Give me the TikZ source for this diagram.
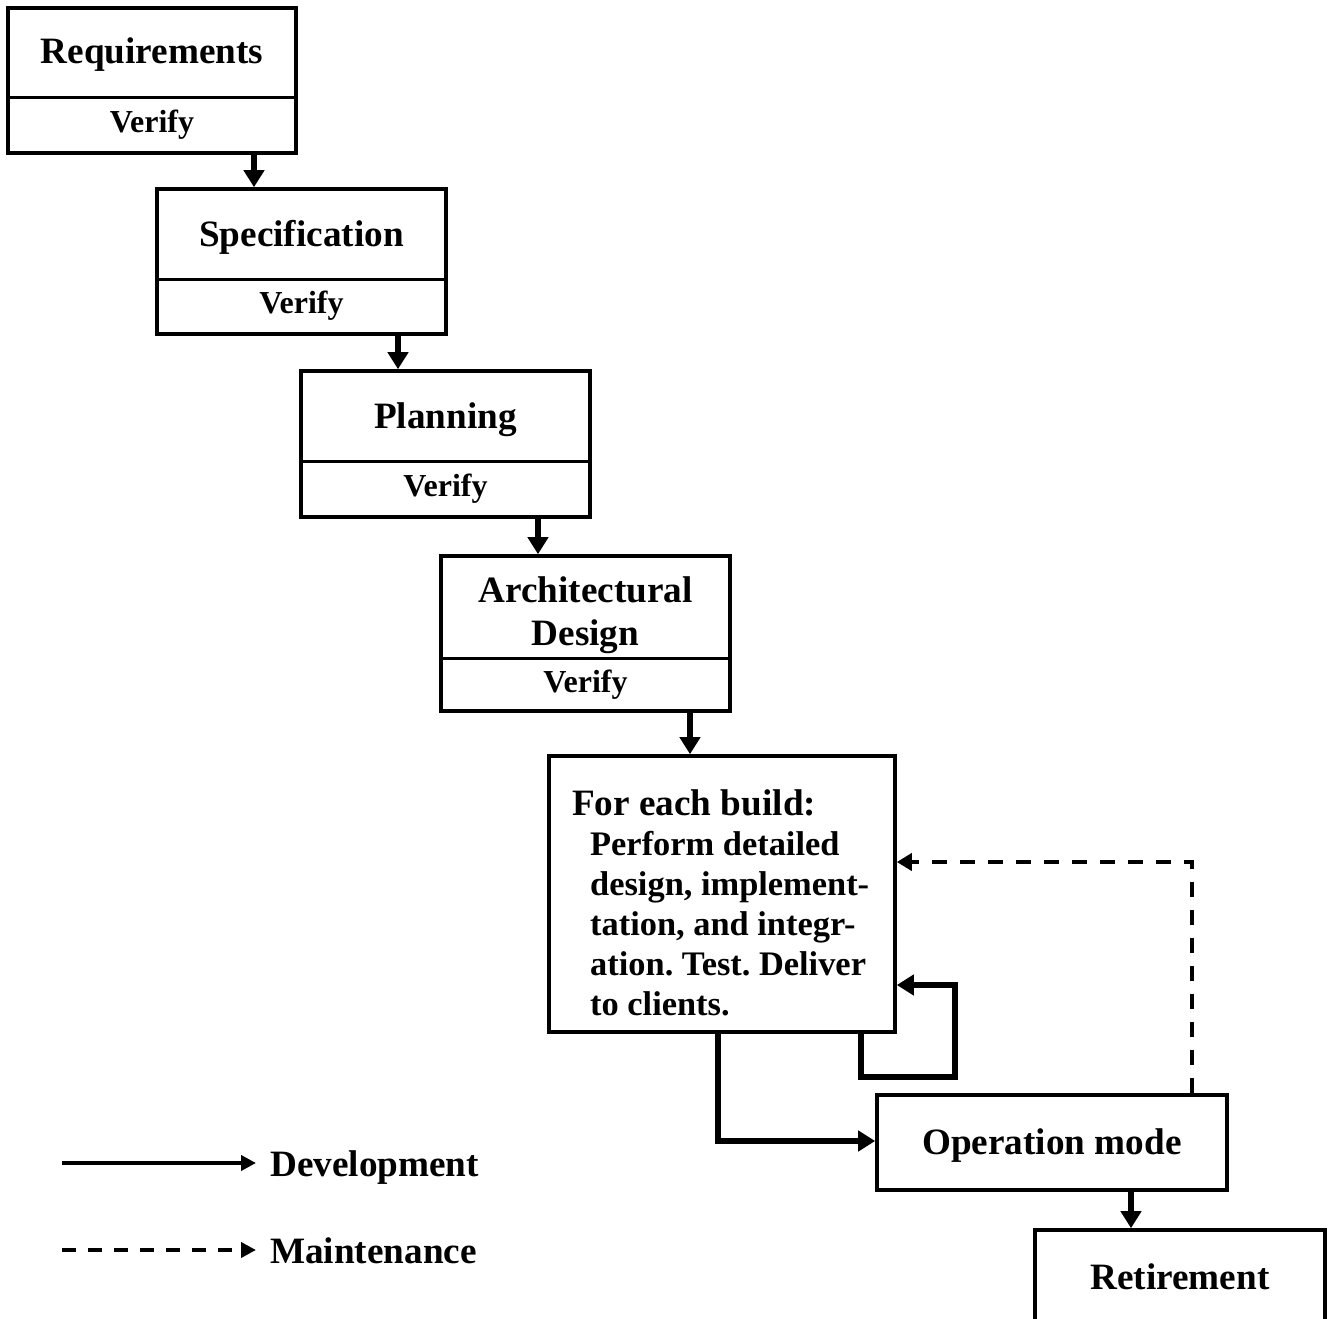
\documentclass[tikz,border=0pt]{standalone}
\usepackage{fontspec}
\setmainfont{Liberation Serif}
\usetikzlibrary{arrows.meta}
\begin{document}
\begin{tikzpicture}[x=1pt,y=-1pt,
  box/.style={draw, line width=3.6pt, inner sep=0pt},
  divider/.style={line width=3pt},
  title/.style={font=\fontsize{37.2}{40}\selectfont\bfseries, inner sep=0pt, anchor=base},
  vlabel/.style={font=\fontsize{32}{34}\selectfont\bfseries, inner sep=0pt, anchor=base},
  dev/.style={line width=5.5pt, -{Triangle[length=17pt,width=20pt]}},
  selfloop/.style={line width=6pt, -{Triangle[length=17pt,width=20pt]}},
  maint/.style={line width=3.8pt, dash pattern=on 15pt off 13pt, -{Triangle[length=15pt,width=17pt]}},
  legdev/.style={line width=4pt, -{Triangle[length=15pt,width=15pt]}},
  legmaint/.style={line width=4pt, dash pattern=on 14pt off 12pt, -{Triangle[length=15pt,width=15pt]}},
]
\useasboundingbox (0,0) rectangle (1328,1319);

% Boxes
\node[box, minimum width=288pt, minimum height=145pt] (req) at (152,80.5) {};
\node[box, minimum width=289pt, minimum height=145pt] (spec) at (301.5,261.5) {};
\node[box, minimum width=289pt, minimum height=146pt] (plan) at (445.5,444) {};
\node[box, minimum width=289pt, minimum height=155pt] (arch) at (585.5,633.5) {};
\node[box, minimum width=346pt, minimum height=276pt] (build) at (722,894) {};
\node[box, minimum width=350pt, minimum height=95pt] (op) at (1052,1142.5) {};
\node[box, minimum width=290pt, minimum height=92pt] (ret) at (1180,1276) {};

% Dividers
\coordinate (d1) at (0,98);
\coordinate (d2) at (0,279);
\coordinate (d3) at (0,461);
\coordinate (d4) at (0,658);
\draw[divider] (req.west |- d1) -- (req.east |- d1);
\draw[divider] (spec.west |- d2) -- (spec.east |- d2);
\draw[divider] (plan.west |- d3) -- (plan.east |- d3);
\draw[divider] (arch.west |- d4) -- (arch.east |- d4);

% Texts
\node[title] (reqT) at (152,64) {Requirements};
\node[vlabel] (reqV) at (152,132) {Verify};
\node[title] (specT) at (301.5,246) {Specification};
\node[vlabel] (specV) at (301.5,313) {Verify};
\node[title] (planT) at (445.5,428) {Planning};
\node[vlabel] (planV) at (445.5,496) {Verify};
\node[title] (archT1) at (585.5,602) {Architectural};
\node[title] (archT2) at (585.5,645) {Design};
\node[vlabel] (archV) at (585.5,692) {Verify};
\node[font=\fontsize{34.4}{40}\selectfont\bfseries\frenchspacing, inner sep=0pt, anchor=north west, align=left] (buildT) at (572,789)
  {{\fontsize{37.2}{40}\selectfont For each build:}\\
   \hspace*{18pt}Perform detailed\\
   \hspace*{18pt}design, implement-\\
   \hspace*{18pt}tation, and integr-\\
   \hspace*{18pt}ation. Test. Deliver\\
   \hspace*{18pt}to clients.};
\node[title] (opT) at (1052,1154) {Operation mode};
\node[title] (retT) at (1180,1289) {Retirement};

% Waterfall connectors
\coordinate (x1) at (254,0);
\coordinate (x2) at (398,0);
\coordinate (x3) at (538,0);
\coordinate (x4) at (690,0);
\coordinate (x5) at (1131,0);
\draw[dev] (x1 |- req.south) -- (x1 |- spec.north);
\draw[dev] (x2 |- spec.south) -- (x2 |- plan.north);
\draw[dev] (x3 |- plan.south) -- (x3 |- arch.north);
\draw[dev] (x4 |- arch.south) -- (x4 |- build.north);
\draw[dev] (x5 |- op.south) -- (x5 |- ret.north);

% Self loop on build
\coordinate (lpA) at (861,1077);
\coordinate (lpB) at (955,1077);
\coordinate (lpC) at (955,985);
\draw[selfloop] (lpA |- build.south) -- (lpA) -- (lpB) -- (lpC) -- (build.east |- lpC);

% Build to operation
\coordinate (dvA) at (718,1141);
\draw[dev] (dvA |- build.south) -- (dvA) -- (op.west |- dvA);

% Maintenance loop
\coordinate (mtA) at (1192,862);
\draw[maint] (mtA |- op.north) -- (mtA) -- (build.east |- mtA);

% Legend
\coordinate (lg1) at (62,1163);
\coordinate (lg2) at (256,1163);
\coordinate (lg3) at (62,1250);
\coordinate (lg4) at (256,1250);
\node[title, anchor=base west] (devL) at (270,1176) {Development};
\node[title, anchor=base west] (mntL) at (270,1263) {Maintenance};
\draw[legdev] (lg1) -- (lg2);
\draw[legmaint] (lg3) -- (lg4);
\end{tikzpicture}
\end{document}
